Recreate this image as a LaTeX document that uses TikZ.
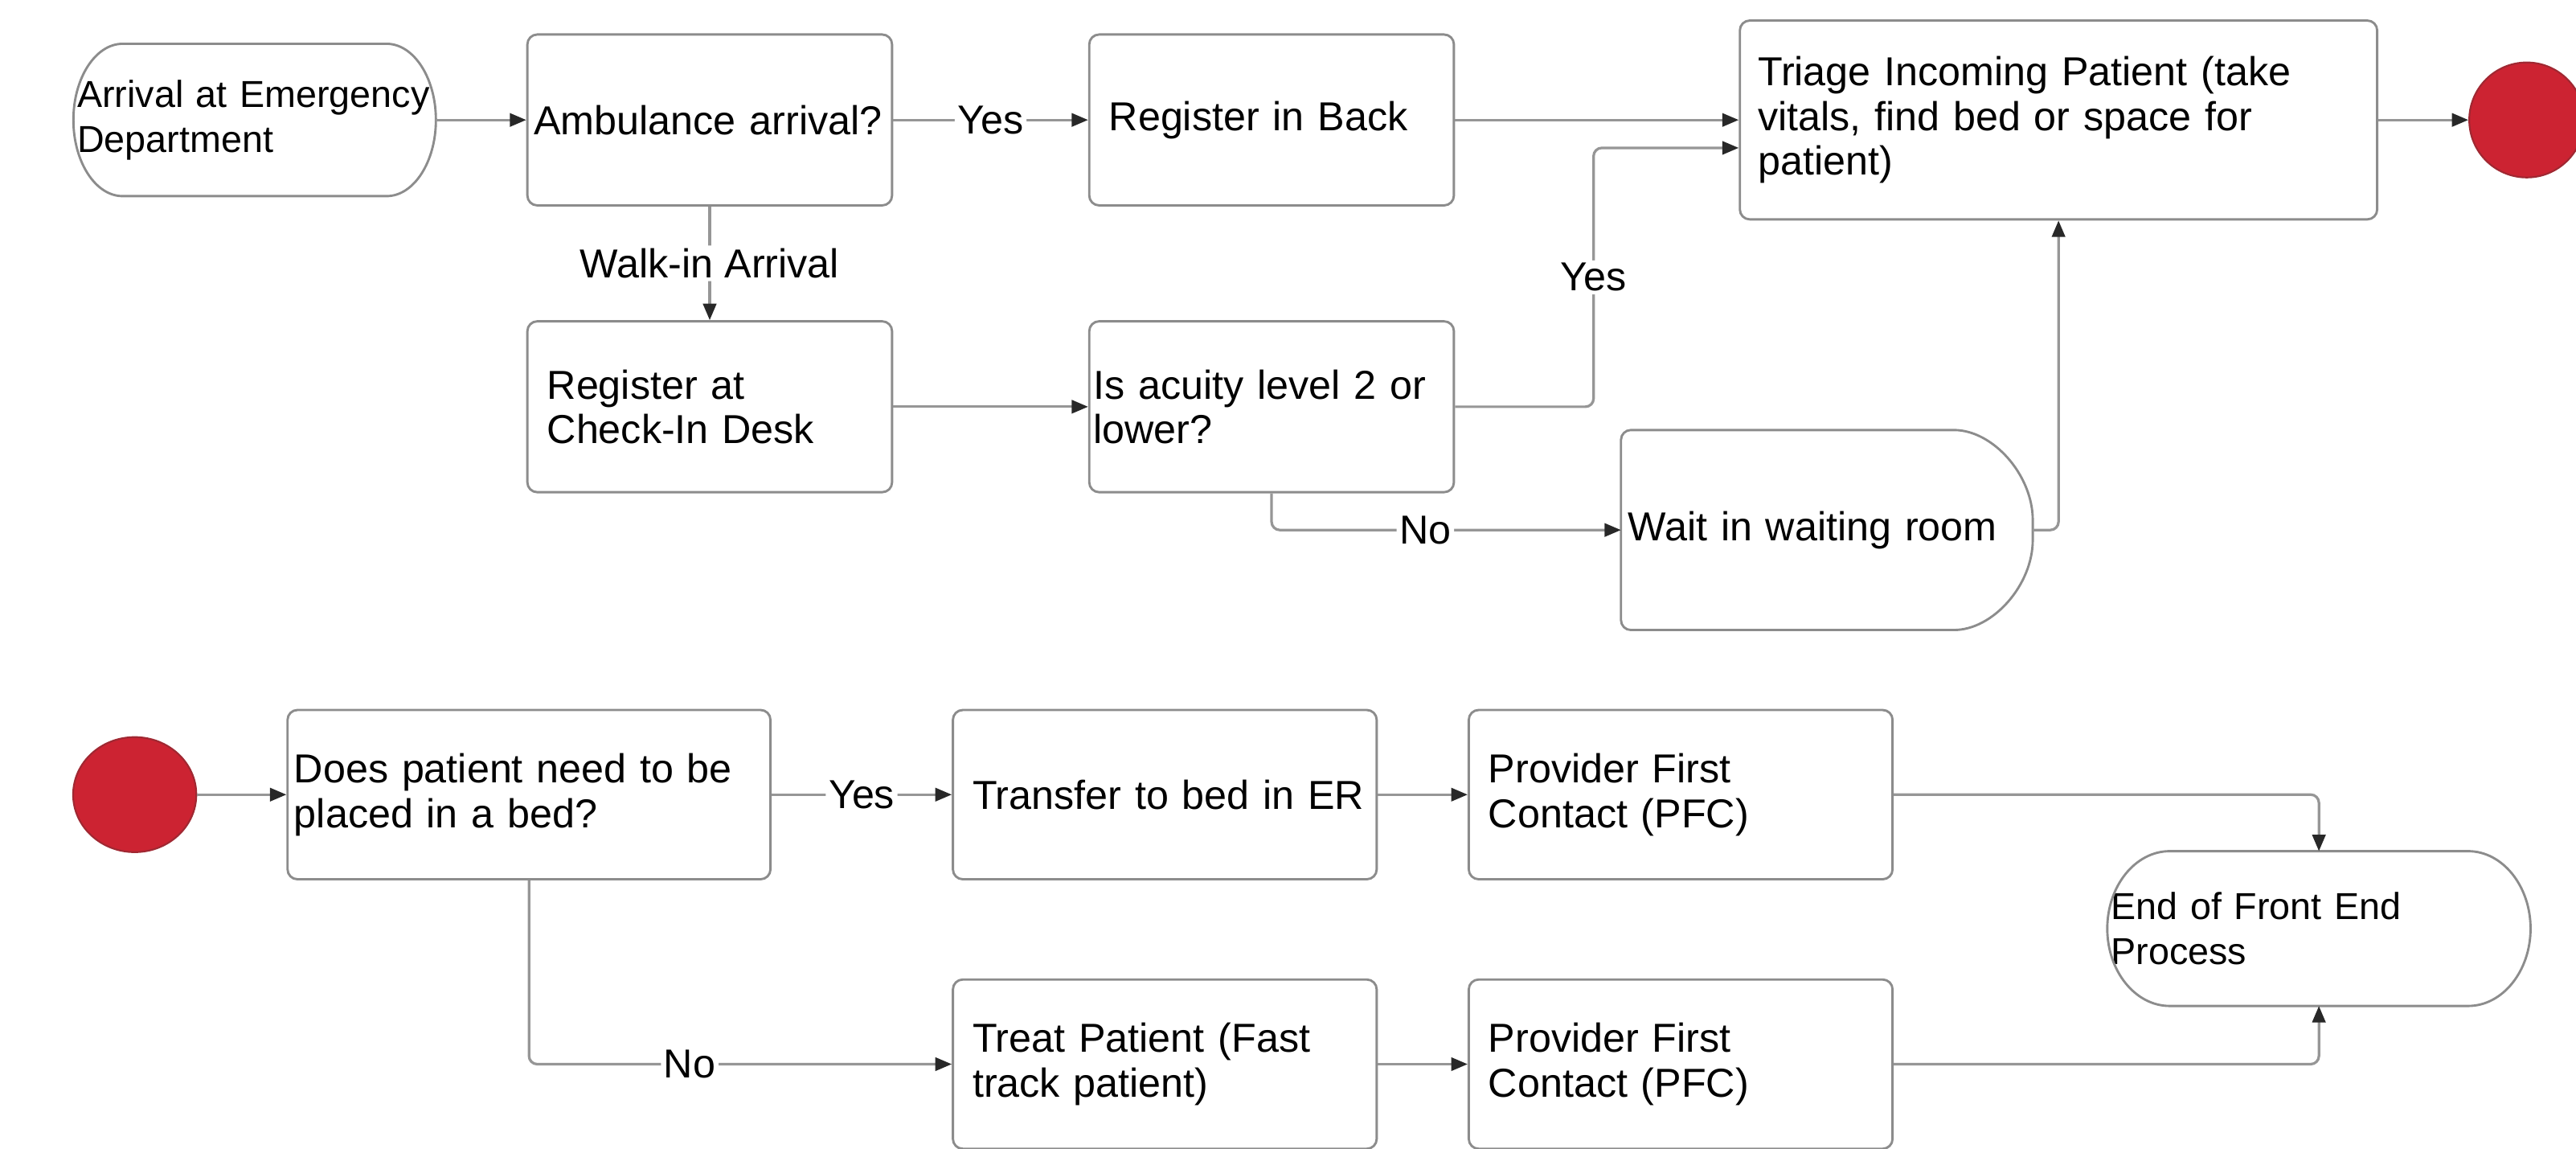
\documentclass[tikz,border=0pt]{standalone}
\usepackage{fontspec}
\setmainfont{Liberation Sans}
\usetikzlibrary{shapes, positioning, calc, arrows.meta}
\definecolor{linegray}{RGB}{150,150,150}
\definecolor{boxgray}{RGB}{140,140,140}
\definecolor{tipdark}{RGB}{40,40,40}
\definecolor{stopred}{RGB}{204,35,50}
\definecolor{stopedge}{RGB}{160,40,50}

\begin{document}
\begin{tikzpicture}[x=0.02cm, y=0.02cm,
    process/.style={rectangle,
      draw=boxgray,
      line width=0.8pt,
      rounded corners=1.2mm,
      align=left,
      inner ysep=0pt,
      minimum height=2.08cm,
      font=\fontsize{14}{15.5}\selectfont},
    terminal/.style={rectangle,
      align=left,
      inner xsep=0.04cm,
      inner ysep=0pt,
      font=\fontsize{13}{15.5}\selectfont},
    outline/.style={draw=boxgray, line width=0.8pt},
    stopdot/.style={ellipse, fill=stopred, draw=stopedge, line width=0.6pt, inner sep=0pt},
    flow/.style={draw=linegray, line width=0.9pt, rounded corners=1mm,
      -{Triangle[length=2mm, width=1.6mm, color=tipdark]}},
    tag/.style={fill=white, inner sep=1pt, font=\fontsize{14}{15.5}\selectfont}]

  \useasboundingbox (0,0) rectangle (1568,699);

  % ARRIVAL PART

  \node[terminal, text width=4.32cm, minimum height=1.84cm] (arrival) at (155,626)
    {Arrival at Emergency\\Department};
  \draw[outline] ($(arrival.north west)+(30,0)$) -- ($(arrival.north east)+(-30,0)$)
    .. controls +(16.6,0) and +(0,25.4) .. (arrival.east)
    .. controls +(0,-25.4) and +(16.6,0) .. ($(arrival.south east)+(-30,0)$)
    -- ($(arrival.south west)+(30,0)$)
    .. controls +(-16.6,0) and +(0,-25.4) .. (arrival.west)
    .. controls +(0,25.4) and +(-16.6,0) .. ($(arrival.north west)+(30,0)$) -- cycle;

  \node[process, text width=4.28cm, inner xsep=0.08cm] (ambul) at (432,626) {Ambulance arrival?};
  \node[process, text width=3.96cm, inner xsep=0.24cm] (regback) at (774,626) {Register in Back};
  \node[process, text width=7.32cm, inner xsep=0.22cm, minimum height=2.42cm] (triage) at (1253,626)
    {Triage Incoming Patient (take\\vitals, find bed or space for\\patient)};
  \node[stopdot, minimum width=1.4cm, minimum height=1.4cm] (stoptop) at (1538,626) {};

  \node[process, text width=3.96cm, inner xsep=0.24cm] (regdesk) at (432,451.5) {Register at\\Check-In Desk};
  \node[process, text width=4.34cm, inner xsep=0.05cm] (acuity) at (774,451.5) {Is acuity level 2 or\\lower?};

  \node[terminal, font=\fontsize{14}{15.5}\selectfont, text width=4.84cm, inner xsep=0.08cm,
    minimum height=2.42cm] (wait) at (1112,376.5) {Wait in waiting room};
  \draw[outline, rounded corners=1.2mm] (wait.north west) -- ($(wait.north east)+(-54,0)$)
    .. controls +(29.8,0) and +(0,33.4) .. (wait.east)
    .. controls +(0,-33.4) and +(29.8,0) .. ($(wait.south east)+(-54,0)$)
    -- (wait.south west) -- cycle;

  \draw[flow] (arrival) -- (ambul);
  \draw[flow] (ambul) -- node[tag] {Yes} (regback);
  \draw[flow] (regback.east) -- (regback.east -| triage.west);
  \draw[flow] (triage.east) -- (stoptop.west);
  \draw[flow] (ambul) -- node[tag] {Walk-in Arrival} (regdesk);
  \draw[flow] (regdesk) -- (acuity);
  \coordinate (yesbend) at (970,609);
  \draw[flow] (acuity.east) -| node[tag, pos=0.75] {Yes} (yesbend) -- (yesbend -| triage.west);
  \draw[flow] (acuity.south) |- node[tag, pos=0.72] {No} (wait.west);
  \draw[flow] (wait.east) -| (triage.south);

  % FRONT END PART

  \node[stopdot, minimum width=1.5cm, minimum height=1.4cm] (stopbottom) at (82,215.5) {};
  \node[process, text width=5.72cm, inner xsep=0.08cm, minimum height=2.06cm] (bedq) at (322,215.5)
    {Does patient need to be\\placed in a bed?};
  \node[process, text width=4.96cm, inner xsep=0.1cm, minimum height=2.06cm] (transfer) at (709,215.5)
    {\hspace*{0.14cm}Transfer to bed in ER};
  \node[process, text width=4.68cm, inner xsep=0.24cm, minimum height=2.06cm] (pfcbed) at (1023,215.5)
    {Provider First\\Contact (PFC)};
  \node[process, text width=4.68cm, inner xsep=0.24cm, minimum height=2.06cm] (treat) at (709,51.5)
    {Treat Patient (Fast\\track patient)};
  \node[process, text width=4.68cm, inner xsep=0.24cm, minimum height=2.06cm] (pfcfast) at (1023,51.5)
    {Provider First\\Contact (PFC)};

  \node[terminal, text width=5.06cm, minimum height=1.87cm] (endfront) at (1411.5,134)
    {End of Front End\\Process};
  \draw[outline] ($(endfront.north west)+(38,0)$) -- ($(endfront.north east)+(-38,0)$)
    .. controls +(21,0) and +(0,25.8) .. (endfront.east)
    .. controls +(0,-25.8) and +(21,0) .. ($(endfront.south east)+(-38,0)$)
    -- ($(endfront.south west)+(38,0)$)
    .. controls +(-21,0) and +(0,-25.8) .. (endfront.west)
    .. controls +(0,25.8) and +(-21,0) .. ($(endfront.north west)+(38,0)$) -- cycle;

  \draw[flow] (stopbottom) -- (bedq);
  \draw[flow] (bedq) -- node[tag] {Yes} (transfer);
  \draw[flow] (bedq.south) |- node[tag, pos=0.69] {No} (treat.west);
  \draw[flow] (transfer) -- (pfcbed);
  \draw[flow] (treat) -- (pfcfast);
  \draw[flow] (pfcbed.east) -| (endfront.north);
  \draw[flow] (pfcfast.east) -| (endfront.south);

\end{tikzpicture}
\end{document}
